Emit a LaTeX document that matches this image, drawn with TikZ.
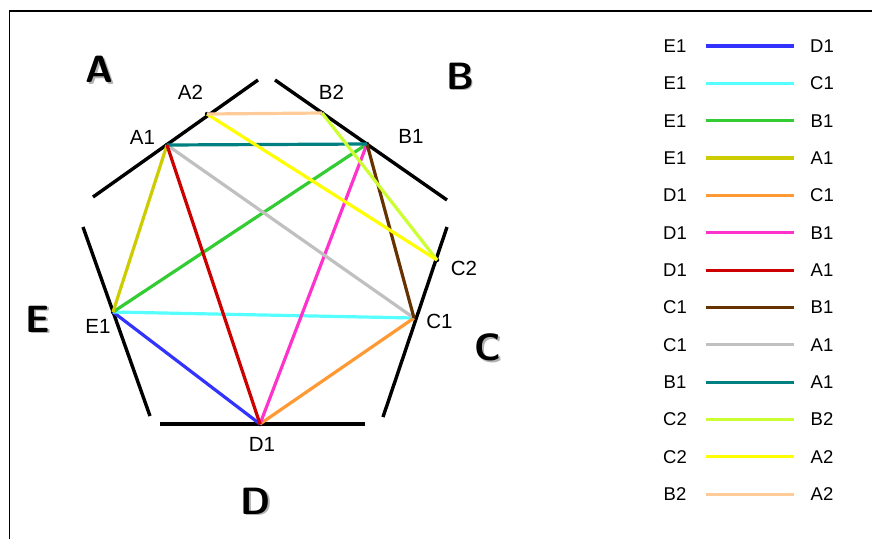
\documentclass[tikz,border=0pt]{standalone}
\usepackage{fontspec}
\newfontfamily\lblfont{Liberation Sans}
\begin{document}
\begin{tikzpicture}[x=1pt,y=-1pt,
  edgeline/.style={line width=3.4pt,black},
  chord/.style={line width=3.2pt},
  ptdot/.style={circle,fill=black,inner sep=0pt,minimum size=4.5pt},
  ptlabel/.style={font=\lblfont\fontsize{20.5}{23}\selectfont,inner sep=0pt},
  leglabel/.style={font=\lblfont\fontsize{18.5}{21}\selectfont,inner sep=0pt},
  bigletter/.style={font=\sffamily\bfseries\fontsize{38}{40}\selectfont,inner sep=0pt},
  legline/.style={line width=3.2pt}]
\definecolor{cBlue}{RGB}{51,51,255}
\definecolor{cCyan}{RGB}{85,255,255}
\definecolor{cGreen}{RGB}{51,204,51}
\definecolor{cOlive}{RGB}{204,204,0}
\definecolor{cOrange}{RGB}{255,153,51}
\definecolor{cMagenta}{RGB}{255,51,204}
\definecolor{cRed}{RGB}{204,0,0}
\definecolor{cBrown}{RGB}{102,51,0}
\definecolor{cGray}{RGB}{192,192,192}
\definecolor{cTeal}{RGB}{0,128,128}
\definecolor{cLime}{RGB}{204,255,51}
\definecolor{cYellow}{RGB}{255,255,0}
\definecolor{cPeach}{RGB}{255,204,153}
\useasboundingbox (0,0) rectangle (872,539);
% frame
\coordinate (fTL) at (9.5,11);
\coordinate (fTR) at (872,11);
\coordinate (fBL) at (9.5,539);
\draw[line width=1.6pt] (fBL) -- (fTL) -- (fTR);
% pentagon edges
\coordinate (a0) at (93,197);  \coordinate (a1) at (258,80);
\coordinate (b0) at (275,80);  \coordinate (b1) at (447,200);
\coordinate (c0) at (447,227); \coordinate (c1) at (383,417);
\coordinate (d0) at (365,424); \coordinate (d1) at (160,424);
\coordinate (e0) at (150,416); \coordinate (e1) at (83,227);
\draw[edgeline] (a0) -- (a1);
\draw[edgeline] (b0) -- (b1);
\draw[edgeline] (c0) -- (c1);
\draw[edgeline] (d0) -- (d1);
\draw[edgeline] (e0) -- (e1);
% points
\node[ptdot] (A2) at (207,114) {};
\node[ptdot] (A1) at (167,145) {};
\node[ptdot] (B2) at (322,113) {};
\node[ptdot] (B1) at (367,144) {};
\node[ptdot] (C2) at (437,260) {};
\node[ptdot] (C1) at (414,318) {};
\node[ptdot] (E1) at (113,312) {};
\node[ptdot] (D1) at (260,424) {};
% chords
\draw[chord,cBlue] (E1.center) -- (D1.center);
\draw[chord,cCyan] (E1.center) -- (C1.center);
\draw[chord,cGreen] (E1.center) -- (B1.center);
\draw[chord,cOlive] (E1.center) -- (A1.center);
\draw[chord,cOrange] (D1.center) -- (C1.center);
\draw[chord,cMagenta] (D1.center) -- (B1.center);
\draw[chord,cGray] (C1.center) -- (A1.center);
\draw[chord,cBrown] (C1.center) -- (B1.center);
\draw[chord,cTeal] (B1.center) -- (A1.center);
\draw[chord,cLime] (C2.center) -- (B2.center);
\draw[chord,cYellow] (C2.center) -- (A2.center);
\draw[chord,cPeach] (B2.center) -- (A2.center);
\draw[chord,cRed] (D1.center) -- (A1.center);
% point labels
\node[ptlabel] (lA2) at (190.5,92) {A2};
\node[ptlabel] (lA1) at (142.5,137) {A1};
\node[ptlabel] (lB2) at (331.5,92) {B2};
\node[ptlabel] (lB1) at (411,136.5) {B1};
\node[ptlabel] (lC2) at (464,268) {C2};
\node[ptlabel] (lC1) at (439.5,321.5) {C1};
\node[ptlabel] (lE1) at (98,326) {E1};
\node[ptlabel] (lD1) at (262,444.5) {D1};
% big letters with shadow
\foreach \n/\x/\y in {A/99.5/69.5, B/460/76, C/488/347, D/256/501, E/38/319}{
  \node[bigletter,text=black!30] (sh\n) at (\x+1.8,\y+1.8) {\n};
  \node[bigletter] (big\n) at (\x,\y) {\n};
}
% legend
\foreach \l/\r/\c [count=\i from 0] in {E1/D1/cBlue, E1/C1/cCyan, E1/B1/cGreen, E1/A1/cOlive, D1/C1/cOrange, D1/B1/cMagenta, D1/A1/cRed, C1/B1/cBrown, C1/A1/cGray, B1/A1/cTeal, C2/B2/cLime, C2/A2/cYellow, B2/A2/cPeach}{
  \node[leglabel] (legL\i) at (675,46+37.35*\i) {\l};
  \node[leglabel] (legR\i) at (822,46+37.35*\i) {\r};
  \coordinate (legA\i) at (706,46+37.35*\i);
  \coordinate (legB\i) at (794,46+37.35*\i);
  \draw[legline,\c] (legA\i) -- (legB\i);
}
\end{tikzpicture}
\end{document}
